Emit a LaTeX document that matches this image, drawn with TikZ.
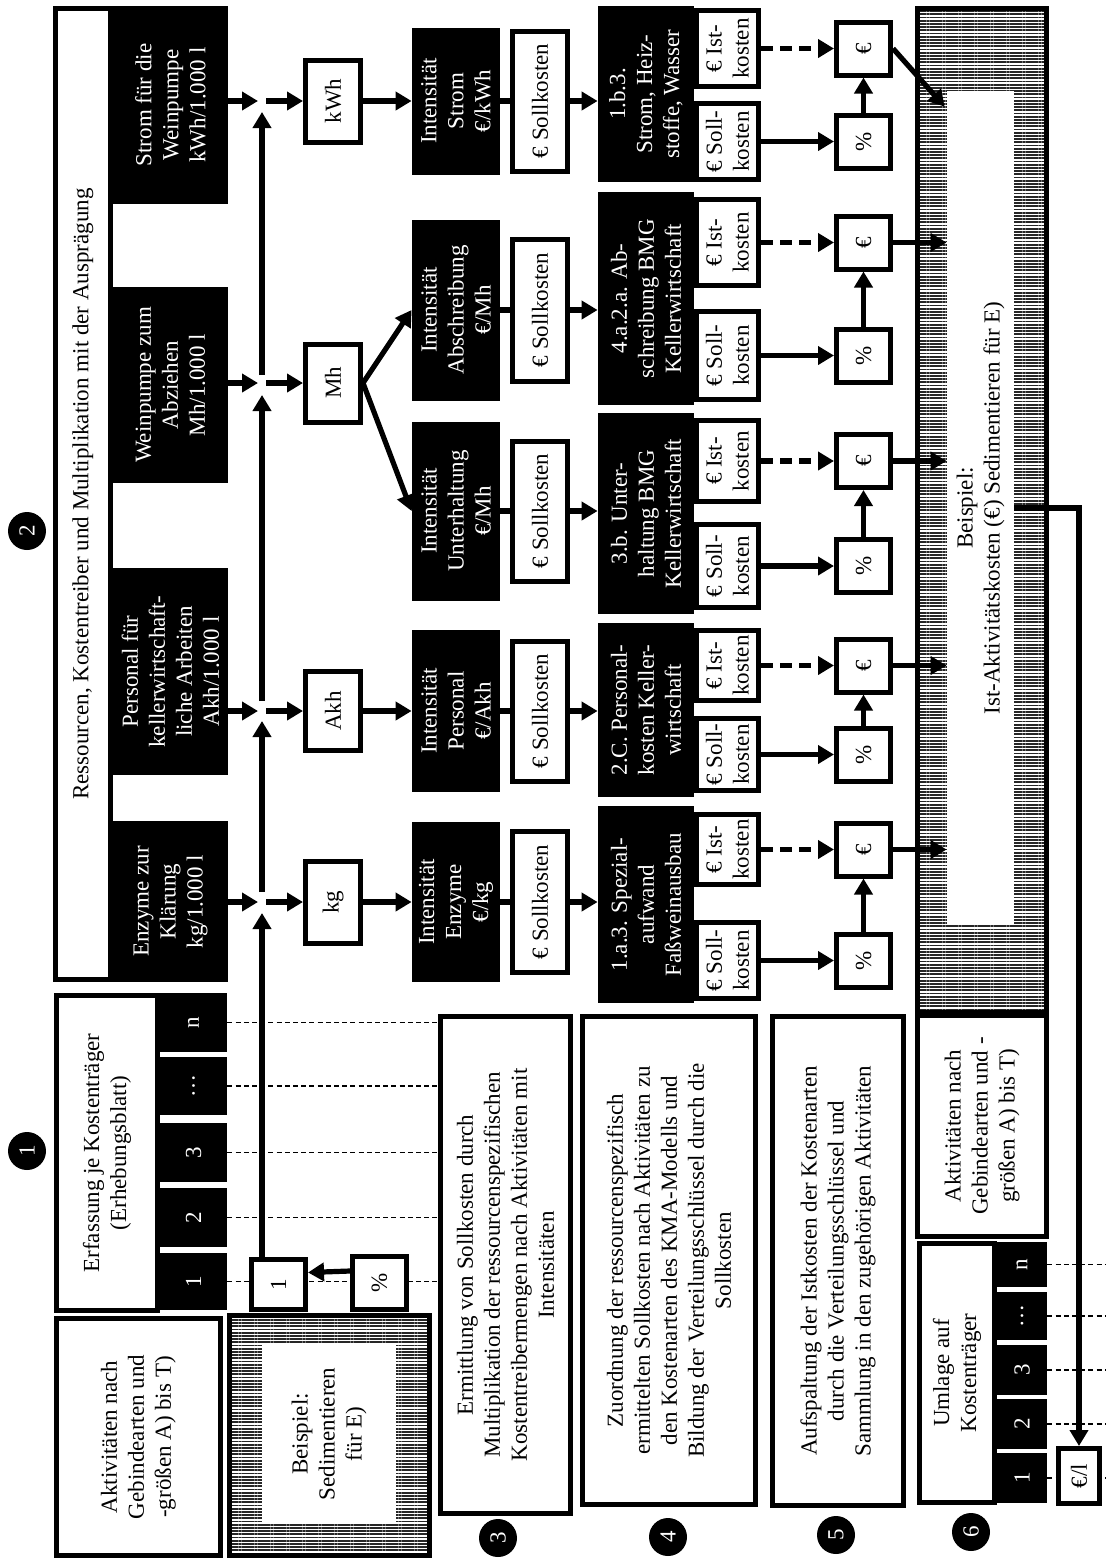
\documentclass[tikz,border=0pt]{standalone}
\usepackage{fontspec}
\setmainfont{Liberation Serif}
\usepackage{tikz}
\usetikzlibrary{arrows.meta,calc,patterns.meta}

\begin{document}
\begin{tikzpicture}[
x=0.5pt, y=-0.5pt,
font=\fontsize{11.5pt}{13.5pt}\selectfont,
sz/.style 2 args = {minimum width=#1*0.5pt, minimum height=#2*0.5pt},
base/.style  = {rotate=90, inner sep=0pt, align=center},
frame/.style = {base, draw, line width=2.5pt, fill=white},
dark/.style  = {base, fill=black, text=white},
hatch/.style = {draw, line width=2.5pt, inner sep=0pt,
                preaction={fill=white},
                pattern={Lines[angle=0,distance=1.6pt,line width=0.9pt]},
                pattern color=black!85},
num/.style   = {base, circle, fill=black, text=white, minimum size=19pt},
Arrow/.style = {line width=2.6pt, -{Triangle[length=8pt,width=9pt]}},
Dash/.style  = {Arrow, dash pattern=on 6pt off 3.5pt},
Link/.style  = {line width=2.6pt},
Grid/.style  = {line width=0.7pt, dash pattern=on 2.5pt off 1.6pt},
                    ]
\useasboundingbox (0,0) rectangle (1105,1560);
% resources
\node[frame, sz={971}{55}]  (res)    at (83,494)    {Ressourcen, Kostentreiber und Multiplikation mit der Ausprägung};
\node[dark, sz={198}{115}]  (rStrom) at (170.5,105) {Strom für die\\Weinpumpe\\kWh/1.000 l};
\node[dark, sz={196}{115}]  (rPumpe) at (170.5,385) {Weinpumpe zum\\Abziehen\\Mh/1.000 l};
\node[dark, sz={207}{115}]  (rPers)  at (170.5,671.5) {Personal für\\kellerwirtschaft-\\liche Arbeiten\\Akh/1.000 l};
\node[dark, sz={161}{115}]  (rEnz)   at (170.5,901.5) {Enzyme zur\\Klärung\\kg/1.000 l};
\coordinate (jStrom) at (262,101);
\coordinate (jPumpe) at (262,383);
\coordinate (jPers)  at (262,711);
\coordinate (jEnz)   at (262,902);
% drivers
\node[frame, sz={82}{55}]   (dkWh)   at (333,101)   {kWh};
\node[frame, sz={78}{55}]   (dMh)    at (333,383)   {Mh};
\node[frame, sz={79}{55}]   (dAkh)   at (333,711)   {Akh};
\node[frame, sz={82}{55}]   (dkg)    at (333,902)   {kg};
% intensities
\node[dark, sz={147}{88}]   (iStrom) at (456,101)   {Intensität\\Strom\\€/kWh};
\node[dark, sz={181}{88}]   (iAbs)   at (456,310)   {Intensität\\Abschreibung\\€/Mh};
\node[dark, sz={179}{88}]   (iUnt)   at (456,511)   {Intensität\\Unterhaltung\\€/Mh};
\node[dark, sz={162}{88}]   (iPers)  at (456,711)   {Intensität\\Personal\\€/Akh};
\node[dark, sz={160}{88}]   (iEnz)   at (456,902)   {Intensität\\Enzyme\\€/kg};
\node[frame, sz={140}{55}]  (sStrom) at (540,101)   {€ Sollkosten};
\node[frame, sz={142}{55}]  (sAbs)   at (540,310)   {€ Sollkosten};
\node[frame, sz={140}{55}]  (sUnt)   at (540,511)   {€ Sollkosten};
\node[frame, sz={140}{55}]  (sPers)  at (540,711)   {€ Sollkosten};
\node[frame, sz={141}{55}]  (sEnz)   at (540,902)   {€ Sollkosten};
% cost types
\node[dark, sz={176}{96}]   (kStrom) at (646,94)    {1.b.3.\\Strom, Heiz-\\stoffe, Wasser};
\node[dark, sz={213}{96}]   (kAbs)   at (646,298.5) {4.a.2.a. Ab-\\schreibung BMG\\Kellerwirtschaft};
\node[dark, sz={201}{96}]   (kUnt)   at (646,513.5) {3.b. Unter-\\haltung BMG\\Kellerwirtschaft};
\node[dark, sz={174}{96}]   (kPers)  at (646,710)   {2.C. Personal-\\kosten Keller-\\wirtschaft};
\node[dark, sz={197}{96}]   (kEnz)   at (646,904.5) {1.a.3. Spezial-\\aufwand\\Faßweinausbau};
\node[frame, sz={76}{62}]   (kStromIst)  at (727.5,48.5)  {€ Ist-\\kosten};
\node[frame, sz={76}{62}]   (kStromSoll) at (727.5,141.5) {€ Soll-\\kosten};
\node[frame, sz={86}{62}]   (kAbsIst)    at (727.5,242.5) {€ Ist-\\kosten};
\node[frame, sz={88}{62}]   (kAbsSoll)   at (727.5,355.5) {€ Soll-\\kosten};
\node[frame, sz={81}{62}]   (kUntIst)    at (727.5,461)   {€ Ist-\\kosten};
\node[frame, sz={83}{62}]   (kUntSoll)   at (727.5,566)   {€ Soll-\\kosten};
\node[frame, sz={70}{62}]   (kPersIst)   at (727.5,665.5) {€ Ist-\\kosten};
\node[frame, sz={72}{62}]   (kPersSoll)  at (727.5,754.5) {€ Soll-\\kosten};
\node[frame, sz={70}{62}]   (kEnzIst)    at (727.5,849.5) {€ Ist-\\kosten};
\node[frame, sz={76}{62}]   (kEnzSoll)   at (727.5,960.5) {€ Soll-\\kosten};
% euro and percent
\node[frame, sz={53}{54}]   (eStrom) at (863.5,48.5)  {€};
\node[frame, sz={53}{54}]   (pStrom) at (863.5,141.5) {\%};
\node[frame, sz={53}{54}]   (eAbs)   at (863.5,242.5) {€};
\node[frame, sz={53}{54}]   (pAbs)   at (863.5,355.5) {\%};
\node[frame, sz={53}{54}]   (eUnt)   at (863.5,461)   {€};
\node[frame, sz={53}{54}]   (pUnt)   at (863.5,566)   {\%};
\node[frame, sz={53}{54}]   (ePers)  at (863.5,665.5) {€};
\node[frame, sz={53}{54}]   (pPers)  at (863.5,754.5) {\%};
\node[frame, sz={53}{54}]   (eEnz)   at (863.5,849.5) {€};
\node[frame, sz={53}{54}]   (pEnz)   at (863.5,960.5) {\%};
% activities
\node[hatch, minimum width=64.5pt, minimum height=502pt] (hatchA) at (982,510.5) {};
\node[base, fill=white, sz={834}{67}] (bspA) at (980.5,508) {Beispiel:\\Ist-Aktivitätskosten (€) Sedimentieren für E)};
\coordinate (bspTop) at ($(bspA.north east)+(-2,16)$);
\node[frame, sz={221}{129}] (akt6)   at (982,1126)  {Aktivitäten nach\\Gebindearten und -\\größen A) bis T)};
\node[frame, sz={259}{75}]  (uml)    at (957,1373)  {Umlage auf\\Kostenträger};
\node[dark, sz={45}{50}]    (un)     at (1022,1264.5) {n};
\node[dark, sz={48}{50}]    (udots)  at (1022,1316) {…};
\node[dark, sz={50}{50}]    (u3)     at (1022,1370) {3};
\node[dark, sz={50}{50}]    (u2)     at (1022,1424) {2};
\node[dark, sz={50}{50}]    (u1)     at (1022,1478) {1};
\coordinate (rim) at (1105,0);
% legend
\node[frame, sz={315}{101}] (erf)    at (107,1153)  {Erfassung je Kostenträger\\(Erhebungsblatt)};
\node[dark, sz={59}{67}]    (tn)     at (193.5,1022.5) {n};
\node[dark, sz={58}{67}]    (tdots)  at (193.5,1086) {…};
\node[dark, sz={59}{67}]    (t3)     at (193.5,1152.5) {3};
\node[dark, sz={59}{67}]    (t2)     at (193.5,1217.5) {2};
\node[dark, sz={57}{67}]    (t1)     at (193.5,1281.5) {1};
\node[frame, sz={237}{164}] (akt1)   at (138.5,1437) {Aktivitäten nach\\Gebindearten und\\-größen A) bis T)};
\node[hatch, minimum width=100pt, minimum height=120pt] (hatchB) at (329.5,1435.5) {};
\node[base, fill=white, sz={180}{134}] (bspB) at (329,1434) {Beispiel:\\Sedimentieren\\für E)};
\node[frame, sz={497}{130}] (leg3)   at (505.5,1265) {Ermittlung von Sollkosten durch\\Multiplikation der ressourcenspezifischen\\Kostentreibermengen nach Aktivitäten mit\\Intensitäten};
\node[frame, sz={488}{173}] (leg4)   at (669,1260.5) {Zuordnung der ressourcenspezifisch\\ermittelten Sollkosten nach Aktivitäten zu\\den Kostenarten des KMA-Modells und\\Bildung der Verteilungsschlüssel durch die\\Sollkosten};
\node[frame, sz={489}{131}] (leg5)   at (838,1261)  {Aufspaltung der Istkosten der Kostenarten\\durch die Verteilungsschlüssel und\\Sammlung in den zugehörigen Aktivitäten};
\node[num] (c1) at (27,1151) {1};
\node[num] (c2) at (27,531)  {2};
\node[num] (c3) at (498,1538) {3};
\node[num] (c4) at (668,1537) {4};
\node[num] (c5) at (836,1535) {5};
\node[num] (c6) at (971,1532) {6};
% grid lines
\draw[Grid] (tn.south) -- (tn -| leg3.north);
\draw[Grid] (tdots.south) -- (tdots -| leg3.north);
\draw[Grid] (t3.south) -- (t3 -| leg3.north);
\draw[Grid] (t2.south) -- (t2 -| leg3.north);
\draw[Grid] (t1.south) -- (t1 -| leg3.north);
\draw[Grid] (un.south) -- (un -| rim);
\draw[Grid] (udots.south) -- (udots -| rim);
\draw[Grid] (u3.south) -- (u3 -| rim);
\draw[Grid] (u2.south) -- (u2 -| rim);
\draw[Grid] (u1.south) -- (u1 -| rim);
\node[frame, sz={50}{54}]   (one)    at (278.5,1284.5) {1};
\node[frame, sz={53}{54}]   (pct)    at (379.5,1283) {\%};
\node[frame, sz={55}{41}]   (eurol)  at (1079,1476) {€/l};
% connectors
\draw[Arrow] ([yshift=6pt]pct.north) -- ([yshift=6pt]one.south);
\draw[Arrow, shorten >=5.5pt] (one.east -| jEnz) -- (jEnz);
\draw[Arrow, shorten <=5pt, shorten >=5pt] (jEnz) -- (jPers);
\draw[Arrow, shorten <=5pt, shorten >=6pt] (jPers) -- (jPumpe);
\draw[Arrow, shorten <=4pt, shorten >=5.5pt] (jPumpe) -- (jStrom);
\draw[Arrow, shorten >=2pt] (rStrom.south |- jStrom) -- (jStrom);
\draw[Arrow, shorten >=2pt] (rPumpe.south |- jPumpe) -- (jPumpe);
\draw[Arrow, shorten >=2pt] (rPers.south |- jPers) -- (jPers);
\draw[Arrow, shorten >=2pt] (rEnz.south |- jEnz) -- (jEnz);
\draw[Arrow, shorten <=2pt] (jStrom) -- (dkWh);
\draw[Arrow, shorten <=2pt] (jPumpe) -- (dMh);
\draw[Arrow, shorten <=2pt] (jPers) -- (dAkh);
\draw[Arrow, shorten <=2pt] (jEnz) -- (dkg);
\draw[Arrow] (dkWh) -- (iStrom);
\draw[Arrow] (dMh.south) -- (iAbs.north);
\draw[Arrow] (dMh.south) -- (iUnt.north);
\draw[Arrow] (dAkh) -- (iPers);
\draw[Arrow] (dkg) -- (iEnz);
\draw[Link] (iStrom) -- (sStrom);
\draw[Link] (iAbs) -- (sAbs);
\draw[Link] (iUnt) -- (sUnt);
\draw[Link] (iPers) -- (sPers);
\draw[Link] (iEnz) -- (sEnz);
\draw[Arrow] (sStrom) -- (sStrom -| kStrom.north);
\draw[Arrow] (sAbs) -- (sAbs -| kAbs.north);
\draw[Arrow] (sUnt) -- (sUnt -| kUnt.north);
\draw[Arrow] (sPers) -- (sPers -| kPers.north);
\draw[Arrow] (sEnz) -- (sEnz -| kEnz.north);
\draw[Dash]  (kStromIst) -- (eStrom);
\draw[Dash]  (kAbsIst) -- (eAbs);
\draw[Dash]  (kUntIst) -- (eUnt);
\draw[Dash]  (kPersIst) -- (ePers);
\draw[Dash]  (kEnzIst) -- (eEnz);
\draw[Arrow] (kStromSoll) -- (pStrom);
\draw[Arrow] (kAbsSoll) -- (pAbs);
\draw[Arrow] (kUntSoll) -- (pUnt);
\draw[Arrow] (kPersSoll) -- (pPers);
\draw[Arrow] (kEnzSoll) -- (pEnz);
\draw[Arrow] (pStrom) -- (eStrom);
\draw[Arrow] (pAbs) -- (eAbs);
\draw[Arrow] (pUnt) -- (eUnt);
\draw[Arrow] (pPers) -- (ePers);
\draw[Arrow] (pEnz) -- (eEnz);
\draw[Arrow] (eStrom.south) -- (bspTop);
\draw[Arrow] (eAbs) -- (eAbs -| bspA.north);
\draw[Arrow] (eUnt) -- (eUnt -| bspA.north);
\draw[Arrow] (ePers) -- (ePers -| bspA.north);
\draw[Arrow] (eEnz) -- (eEnz -| bspA.north);
\draw[Arrow] (bspA.south) -| (eurol.east);
\end{tikzpicture}
\end{document}
